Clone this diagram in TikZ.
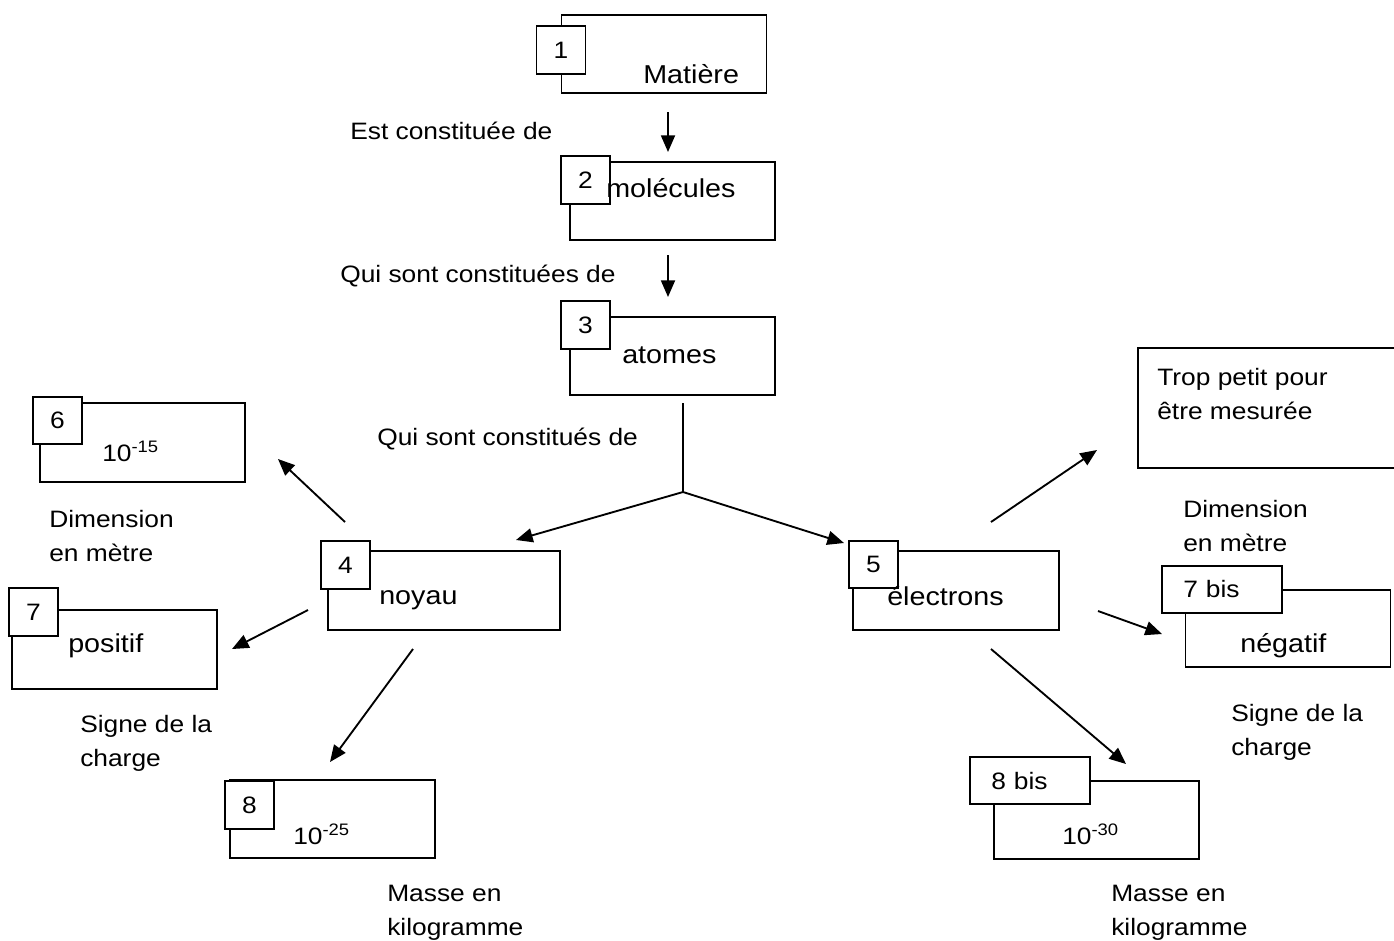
\documentclass[tikz,border=0pt]{standalone}
\usepackage{fontspec}
\setmainfont[FakeStretch=1.11]{Liberation Sans}
\usetikzlibrary{arrows.meta}

\tikzset{
  bigbox/.style={draw, line width=1.4pt, minimum width=153.75pt, minimum height=58.5pt, inner sep=0pt},
  numbox/.style={draw, fill=white, line width=1.4pt, minimum width=36.75pt, minimum height=35.5pt, inner sep=0pt},
  bisbox/.style={numbox, minimum width=90pt, text width=58pt, inner xsep=16pt, align=left},
  lbl/.style={anchor=base west, inner sep=0pt, align=left},
  boxtxt/.style={lbl, font=\fontsize{19.4pt}{26pt}\selectfont},
  arr/.style={line width=1.4pt, -{Triangle[length=12.5pt,width=10.5pt]}},
}

\begin{document}
\fontsize{17.8pt}{25.5pt}\selectfont
\begin{tikzpicture}[x=0.75pt,y=0.75pt,yscale=-1,xscale=1]
\useasboundingbox (0,0) rectangle (1394,940);

%Shape: Rectangle
\node[bigbox] (matiere) at (664,54) {};
\node[bigbox] (molecules) at (672.5,201) {};
\node[bigbox] (atomes) at (672.5,356) {};
\node[bigbox, minimum width=174pt, minimum height=59.25pt] (noyau) at (444,590.5) {};
\node[bigbox, minimum width=154.5pt, minimum height=59.25pt] (electrons) at (956,590.5) {};
\node[bigbox, minimum height=59.25pt] (dim6) at (142.5,442.5) {};
\node[bigbox, minimum height=59.25pt] (positif) at (114.5,649.5) {};
\node[bigbox] (masse8) at (332.5,819) {};
\node[bigbox, minimum width=196.5pt, minimum height=90pt] (trop) at (1269,408) {};
\node[bigbox, minimum height=58pt] (negatif) at (1288,628.5) {};
\node[bigbox] (masse8bis) at (1096.5,820) {};

%Shape: Square
\node[numbox] (n1) at (561,50) {1};
\node[numbox] (n2) at (585.5,180) {2};
\node[numbox] (n3) at (585.5,325) {3};
\node[numbox] (n4) at (345.5,565) {4};
\node[numbox] (n5) at (873.5,564.5) {5};
\node[numbox] (n6) at (57.5,420.5) {6};
\node[numbox] (n7) at (33.5,612) {7};
\node[numbox] (n8) at (249.5,805) {8};
\node[bisbox] (n7bis) at (1222,589.5) {7 bis};
\node[bisbox] (n8bis) at (1030,780.5) {8 bis};

% Text Node
\node[boxtxt] (tmatiere) at (643,83) {Matière};
\node[boxtxt] (tmolecules) at (606,197) {molécules};
\node[boxtxt] (tatomes) at (622,363) {atomes};
\node[boxtxt] (tnoyau) at (379,604) {noyau};
\node[boxtxt] (telectrons) at (887,605) {électrons};
\node[lbl] (tdim6) at (102,461) {10\textsuperscript{-15}};
\node[boxtxt] (tpositif) at (68,652) {positif};
\node[lbl] (tmasse8) at (293,844) {10\textsuperscript{-25}};
\node[lbl] (ttrop) at (1157,419.5) {Trop petit pour\\être mesurée};
\node[boxtxt] (tnegatif) at (1240,652) {négatif};
\node[lbl] (tmasse8bis) at (1062,844) {10\textsuperscript{-30}};

% Text Node
\node[lbl] (est) at (350,139.5) {Est constituée de};
\node[lbl] (quif) at (340,282.5) {Qui sont constituées de};
\node[lbl] (quim) at (377,445.5) {Qui sont constitués de};
\node[lbl] (dimg) at (49,561.5) {Dimension\\en mètre};
\node[lbl] (signeg) at (80,766.5) {Signe de la\\charge};
\node[lbl] (masseg) at (387,935.5) {Masse en\\kilogramme};
\node[lbl] (dimd) at (1183,551.5) {Dimension\\en mètre};
\node[lbl] (signed) at (1231,755.5) {Signe de la\\charge};
\node[lbl] (massed) at (1111,935.5) {Masse en\\kilogramme};

% arrow ends
\coordinate (a1s) at (668,112);
\coordinate (a1e) at (668,152);
\coordinate (a2s) at (668,255);
\coordinate (a2e) at (668,297);
\coordinate (stem) at (683,403);
\coordinate (fork) at (683,492);
\coordinate (a3l) at (516,540);
\coordinate (a3r) at (844,543);
\coordinate (a6s) at (345,522);
\coordinate (a6e) at (278,459);
\coordinate (a7s) at (308,610);
\coordinate (a7e) at (232,649);
\coordinate (a8s) at (413,649);
\coordinate (a8e) at (330,762);
\coordinate (ats) at (991,522);
\coordinate (ate) at (1097,450);
\coordinate (a7bs) at (1098,611);
\coordinate (a7be) at (1162,634);
\coordinate (a8bs) at (991,649);
\coordinate (a8be) at (1126,764);

%Straight Lines
\draw[arr] (a1s) -- (a1e);
\draw[arr] (a2s) -- (a2e);
\draw[line width=1.4pt] (stem) -- (fork);
\draw[arr] (fork) -- (a3l);
\draw[arr] (fork) -- (a3r);
\draw[arr] (a6s) -- (a6e);
\draw[arr] (a7s) -- (a7e);
\draw[arr] (a8s) -- (a8e);
\draw[arr] (ats) -- (ate);
\draw[arr] (a7bs) -- (a7be);
\draw[arr] (a8bs) -- (a8be);

\end{tikzpicture}
\end{document}
